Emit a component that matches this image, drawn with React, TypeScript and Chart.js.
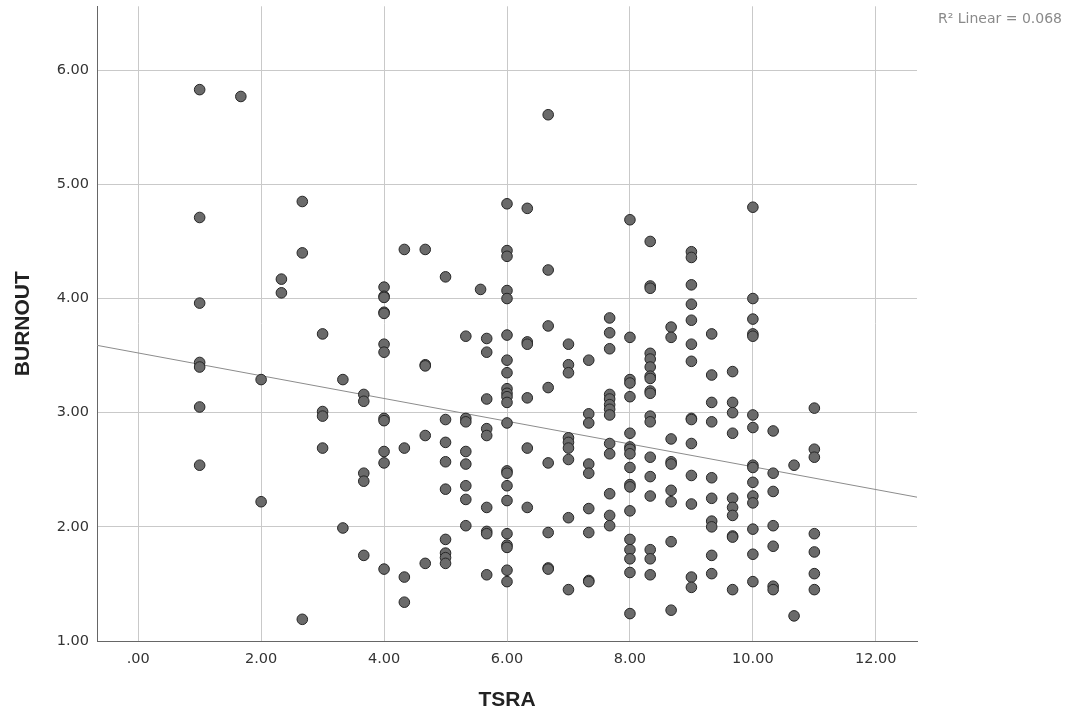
import React, { useEffect, useRef } from "react";
import { Chart, registerables } from "chart.js";

Chart.register(...registerables);

// TSRA levels (x) and the BURNOUT values (y) observed at each level
const tsraLevels = [
  1, 1.67, 2, 2.33, 2.67, 3, 3.33, 3.67, 4, 4.33, 4.67, 5, 5.33, 5.57, 5.67, 6,
  6.33, 6.67, 7, 7.33, 7.67, 8, 8.33, 8.67, 9, 9.33, 9.67, 10, 10.33, 10.67, 11,
];

const burnoutByLevel: number[][] = [
  [5.83, 4.71, 3.96, 3.44, 3.40, 3.05, 2.54],
  [5.77],
  [3.29, 2.22],
  [4.17, 4.05],
  [4.85, 4.40, 1.19],
  [3.69, 3.01, 2.97, 2.69],
  [3.29, 1.99],
  [3.16, 3.10, 2.47, 2.40, 1.75],
  [4.10, 4.02, 4.01, 3.88, 3.87, 3.60, 3.53, 2.95, 2.93, 2.66, 2.56, 1.63],
  [4.43, 2.69, 1.56, 1.34],
  [4.43, 3.42, 3.41, 2.80, 1.68],
  [4.19, 2.94, 2.74, 2.57, 2.33, 1.89, 1.77, 1.73, 1.68],
  [3.67, 2.95, 2.92, 2.66, 2.55, 2.36, 2.24, 2.01],
  [4.08],
  [3.65, 3.53, 3.12, 2.86, 2.80, 2.17, 1.96, 1.94, 1.58],
  [4.83, 4.42, 4.37, 4.07, 4.00, 3.68, 3.46, 3.35, 3.21, 3.17, 3.14, 3.09, 2.91, 2.49, 2.47, 2.36, 2.23, 1.94, 1.84, 1.82, 1.62, 1.52],
  [4.79, 3.62, 3.60, 3.13, 2.69, 2.17],
  [5.61, 4.25, 3.76, 3.22, 2.56, 1.95, 1.64, 1.63],
  [3.60, 3.42, 3.35, 2.78, 2.74, 2.69, 2.59, 2.08, 1.45],
  [3.46, 2.99, 2.91, 2.55, 2.47, 2.16, 1.95, 1.53, 1.52],
  [3.83, 3.70, 3.56, 3.16, 3.12, 3.07, 3.03, 2.98, 2.73, 2.64, 2.29, 2.10, 2.01],
  [4.69, 3.66, 3.29, 3.26, 3.14, 2.82, 2.70, 2.68, 2.64, 2.52, 2.37, 2.35, 2.14, 1.89, 1.80, 1.72, 1.60, 1.24],
  [4.50, 4.11, 4.09, 3.52, 3.47, 3.40, 3.32, 3.30, 3.19, 3.17, 2.97, 2.92, 2.61, 2.44, 2.27, 1.80, 1.72, 1.58],
  [3.75, 3.66, 2.77, 2.57, 2.55, 2.32, 2.22, 1.87, 1.27],
  [4.41, 4.36, 4.12, 3.95, 3.81, 3.60, 3.45, 2.95, 2.94, 2.73, 2.45, 2.20, 1.56, 1.47],
  [3.69, 3.33, 3.09, 2.92, 2.43, 2.25, 2.05, 2.00, 1.75, 1.59],
  [3.36, 3.09, 3.00, 2.82, 2.25, 2.17, 2.10, 1.92, 1.91, 1.45],
  [4.80, 4.00, 3.82, 3.69, 3.67, 2.98, 2.87, 2.54, 2.52, 2.39, 2.27, 2.21, 1.98, 1.76, 1.52],
  [2.84, 2.47, 2.31, 2.01, 1.83, 1.48, 1.45],
  [2.54, 1.22],
  [3.04, 2.68, 2.61, 1.94, 1.78, 1.59, 1.45],
];

// Linear fit line end points
const fitX = [-0.67, 12.67];
const fitY = [3.59, 2.26];

const xTickValues = [0, 2, 4, 6, 8, 10, 12];
const xTickLabels = [".00", "2.00", "4.00", "6.00", "8.00", "10.00", "12.00"];
const yTickValues = [1, 2, 3, 4, 5, 6];
const yTickLabels = ["1.00", "2.00", "3.00", "4.00", "5.00", "6.00"];

const xTitle = "TSRA";
const yTitle = "BURNOUT";
const r2Label = "R\u00B2 Linear = 0.068";

export default function App() {
  const canvasRef = useRef<HTMLCanvasElement>(null);

  useEffect(() => {
    if (!canvasRef.current) return;
    const points = tsraLevels.flatMap((x, i) =>
      burnoutByLevel[i].map((y) => ({ x, y }))
    );
    const fitPoints = fitX.map((x, i) => ({ x, y: fitY[i] }));

    const r2Plugin = {
      id: "r2Label",
      afterDraw(chart: any) {
        const ctx = chart.ctx;
        ctx.save();
        ctx.font = '14px "DejaVu Sans"';
        ctx.fillStyle = "#8a8a8a";
        ctx.textAlign = "right";
        ctx.textBaseline = "middle";
        ctx.fillText(r2Label, 1062, 19);
        ctx.restore();
      },
    };

    const tickFont = { family: "'DejaVu Sans'", size: 14.5 };
    const titleFont = { family: "'Liberation Sans'", size: 21, weight: "bold" as const };

    const chart = new Chart(canvasRef.current, {
      type: "scatter",
      data: {
        datasets: [
          {
            data: points,
            pointRadius: 5.3,
            pointHoverRadius: 5.3,
            backgroundColor: "#6a6a6a",
            borderColor: "#262626",
            borderWidth: 1,
          },
          {
            type: "line",
            data: fitPoints,
            borderColor: "#8c8c8c",
            borderWidth: 1,
            pointRadius: 0,
            fill: false,
          } as any,
        ],
      },
      options: {
        animation: false,
        responsive: false,
        layout: { padding: { left: 0, right: 153, top: 5, bottom: 0 } },
        plugins: {
          legend: { display: false },
          tooltip: { enabled: false },
        },
        scales: {
          x: {
            type: "linear",
            min: -0.67,
            max: 12.67,
            afterBuildTicks: (s: any) => {
              s.ticks = xTickValues.map((v) => ({ value: v }));
            },
            afterFit: (s: any) => {
              s.height = 78;
              s.paddingLeft = 0;
              s.paddingRight = 0;
            },
            ticks: {
              callback: (v: any) => {
                const i = xTickValues.indexOf(Number(v));
                return i >= 0 ? xTickLabels[i] : "";
              },
              font: tickFont,
              color: "#333333",
              padding: 10,
              maxRotation: 0,
              autoSkip: false,
            },
            grid: { color: "#c9c9c9", lineWidth: 1, drawTicks: false },
            border: { display: true, color: "#666666", width: 1 },
            title: {
              display: true,
              text: xTitle,
              font: titleFont,
              color: "#222222",
              padding: { top: 0, bottom: 6 },
            },
          },
          y: {
            type: "linear",
            min: 1,
            max: 6.56,
            afterBuildTicks: (s: any) => {
              s.ticks = yTickValues.map((v) => ({ value: v }));
            },
            afterFit: (s: any) => {
              s.width = 97;
              s.paddingTop = 0;
              s.paddingBottom = 0;
            },
            ticks: {
              callback: (v: any) => {
                const i = yTickValues.indexOf(Number(v));
                return i >= 0 ? yTickLabels[i] : "";
              },
              font: tickFont,
              color: "#333333",
              padding: 8,
              autoSkip: false,
            },
            grid: { color: "#c9c9c9", lineWidth: 1, drawTicks: false },
            border: { display: true, color: "#666666", width: 1 },
            title: {
              display: true,
              text: yTitle,
              font: titleFont,
              color: "#222222",
              padding: { top: 11, bottom: 0 },
            },
          },
        },
      },
      plugins: [r2Plugin],
    });

    return () => chart.destroy();
  }, []);

  return (
    <div style={{ position: "absolute", left: 0, top: 0, width: 1070, height: 719, background: "#ffffff" }}>
      <canvas ref={canvasRef} width={1070} height={719} />
    </div>
  );
}
